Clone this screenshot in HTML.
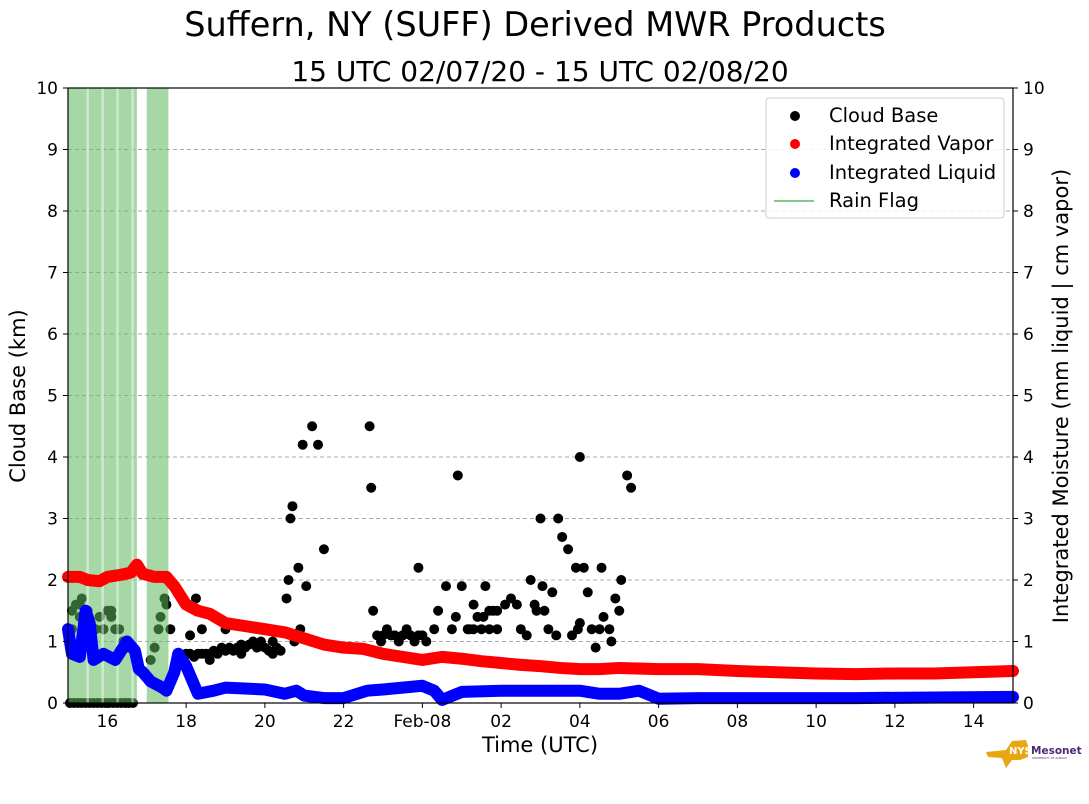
<!DOCTYPE html>
<html><head><meta charset="utf-8"><style>
body{margin:0;background:#fff;}
svg{display:block;font-family:"DejaVu Sans","Liberation Sans",sans-serif;}
</style></head><body>
<svg id="c" width="1089" height="804">
<text x="535" y="36" font-size="33.5" text-anchor="middle">Suffern, NY (SUFF) Derived MWR Products</text>
<text x="540" y="81" font-size="28" text-anchor="middle">15 UTC 02/07/20 - 15 UTC 02/08/20</text>
<g id="grid"></g><g id="cloud"></g><g id="rain"></g><g id="data"></g><g id="axes"></g>
<text x="540" y="752" font-size="21" text-anchor="middle">Time (UTC)</text>
<text transform="translate(25,396) rotate(-90)" font-size="21" text-anchor="middle">Cloud Base (km)</text>
<text transform="translate(1068,396) rotate(-90)" font-size="21" text-anchor="middle">Integrated Moisture (mm liquid | cm vapor)</text>
<g>
<rect x="766" y="98" width="238" height="120" rx="3" fill="#fff" fill-opacity="0.85" stroke="#ccc"/>
<circle cx="795" cy="116" r="5" fill="#000"/><text x="829" y="122" font-size="19.5">Cloud Base</text>
<circle cx="795" cy="144" r="5" fill="red"/><text x="829" y="150" font-size="19.5">Integrated Vapor</text>
<circle cx="795" cy="173" r="5" fill="blue"/><text x="829" y="179" font-size="19.5">Integrated Liquid</text>
<line x1="774" y1="201" x2="814" y2="201" stroke="#5cb85c" stroke-width="1.5"/><text x="829" y="207" font-size="19.5">Rain Flag</text>
</g>
<g>
<path d="M986,752 L1006,750 L1012,741 L1026,740 L1028,746 L1028,757 L1020,760 L1012,760 L1006,768 L1002,758 L988,757 Z" fill="#e8a612"/>
<text x="1009" y="754" font-size="10" font-weight="bold" fill="#fff">NYS</text>
<text x="1031" y="754" font-size="10.5" font-weight="bold" fill="#4b2a73">Mesonet</text>
<text x="1032" y="759" font-size="3" fill="#4b2a73">UNIVERSITY AT ALBANY</text>
</g>
</svg>
<script>
const xTickHours=[1,3,5,7,9,11,13,15,17,19,21,23];
const xTickLabels=["16","18","20","22","Feb-08","02","04","06","08","10","12","14"];
const yTicks=[0,1,2,3,4,5,6,7,8,9,10];
const rainBands=[[0,1.75],[2.0,2.55]];
const vaporH=[0,0.3,0.5,0.8,1.0,1.3,1.6,1.75,1.9,2.2,2.5,2.7,3.0,3.3,3.6,4,4.5,5,5.5,6,6.5,7,7.5,8,8.5,9,9.5,10,10.5,11,11.5,12,12.5,13,13.5,14,15,16,17,18,19,20,21,22,23,24];
const vaporV=[2.05,2.05,2.0,1.98,2.05,2.08,2.12,2.25,2.1,2.05,2.05,1.9,1.6,1.5,1.45,1.3,1.25,1.2,1.15,1.05,0.95,0.9,0.88,0.8,0.75,0.7,0.75,0.72,0.68,0.65,0.62,0.6,0.57,0.55,0.55,0.57,0.55,0.55,0.52,0.5,0.48,0.47,0.48,0.48,0.5,0.52];
const liqH=[0,0.1,0.3,0.45,0.55,0.65,0.9,1.2,1.5,1.7,1.8,1.9,2.1,2.4,2.5,2.7,2.8,3.0,3.2,3.3,3.7,4,5,5.5,5.8,6,6.5,7,7.6,8,9,9.3,9.5,10,11,12,13,13.5,14,14.5,15,16,20,24];
const liqV=[1.2,0.8,0.75,1.5,1.3,0.7,0.8,0.7,1.0,0.85,0.55,0.5,0.35,0.25,0.2,0.5,0.8,0.6,0.3,0.15,0.2,0.25,0.22,0.15,0.2,0.12,0.08,0.08,0.2,0.22,0.28,0.2,0.05,0.18,0.2,0.2,0.2,0.15,0.15,0.2,0.07,0.08,0.08,0.1];
const cloudH=[0.1,0.2,0.3,0.35,0.5,0.6,0.8,0.9,1.0,1.1,1.2,1.4,1.5,0.05,0.15,0.25,0.35,0.45,0.55,0.65,0.75,0.85,0.95,1.05,1.15,1.25,1.35,1.45,1.55,1.65,0.1,0.3,0.5,0.7,0.9,1.1,1.3,1.5,1.7,2.1,2.2,2.3,2.35,2.45,2.5,2.6,2.8,3.0,3.1,3.2,3.3,3.4,3.5,3.6,3.7,3.8,3.9,4.0,4.1,4.2,4.3,4.4,4.5,4.6,4.7,4.8,4.9,5.0,5.1,5.2,5.3,5.4,3.1,3.25,3.4,3.6,4.0,4.4,4.8,5.2,5.55,5.6,5.65,5.7,5.75,5.85,5.9,5.96,6.05,6.2,6.35,6.5,7.66,7.7,7.75,7.85,7.95,8.0,8.1,8.2,8.3,8.4,8.5,8.6,8.7,8.8,8.9,9.0,9.1,8.1,8.5,8.9,9.3,9.4,9.6,9.75,9.9,9.85,10.0,10.2,10.3,10.4,10.5,10.6,10.7,10.8,10.9,10.15,10.55,10.3,10.7,10.9,11.1,11.25,11.4,11.5,11.65,11.75,11.85,11.9,12.0,12.05,12.1,12.2,12.3,12.4,12.45,12.55,12.7,12.8,12.9,12.95,13.0,13.1,13.2,13.4,13.5,13.55,13.6,13.75,13.8,13.9,14.0,14.05,14.2,14.3,13.0,13.3];
const cloudV=[1.5,1.6,1.6,1.7,1.5,1.2,1.4,1.2,1.5,1.4,1.2,1.0,0.9,0,0,0,0,0,0,0,0,0,0,0,0,0,0,0,0,0,1.2,1.4,1.3,1.2,1.2,1.5,1.2,1.0,0.8,0.7,0.9,1.2,1.4,1.7,1.6,1.2,0.6,0.8,0.8,0.75,0.8,0.8,0.8,0.8,0.85,0.8,0.9,0.85,0.9,0.85,0.9,0.95,0.9,0.95,1.0,0.95,1.0,0.9,0.85,0.8,0.9,0.85,1.1,1.7,1.2,0.7,1.2,0.8,0.9,1.0,1.7,2.0,3.0,3.2,1.0,2.2,1.2,4.2,1.9,4.5,4.2,2.5,4.5,3.5,1.5,1.1,1.0,1.1,1.2,1.1,1.1,1.0,1.1,1.2,1.1,1.0,1.1,1.1,1.0,1.15,1.1,2.2,1.2,1.5,1.9,1.2,3.7,1.4,1.9,1.2,1.6,1.4,1.2,1.9,1.2,1.5,1.2,1.2,1.4,1.2,1.5,1.5,1.6,1.7,1.6,1.2,1.1,2.0,1.6,1.5,3.0,1.9,1.5,1.2,1.8,1.1,3.0,2.7,2.5,1.1,2.2,1.2,4.0,2.2,1.8,0.9,1.2,2.2,1.4,1.2,1.0,1.7,1.5,2.0,3.7,3.5,1.3,1.2];
const NS='http://www.w3.org/2000/svg';
const X0=68,X1=1013,Y0=703,Y1=88;
const xs=h=>X0+h*(X1-X0)/24, ys=v=>Y0-v*(Y0-Y1)/10;
function mk(t,a,p){const e=document.createElementNS(NS,t);for(const k in a)e.setAttribute(k,a[k]);p.appendChild(e);return e;}
const grid=document.getElementById('grid'),cloud=document.getElementById('cloud'),data=document.getElementById('data'),rain=document.getElementById('rain'),axes=document.getElementById('axes');
yTicks.forEach(v=>{
 if(v>0&&v<10){const g=mk('line',{x1:X0,x2:X1,y1:ys(v),y2:ys(v),stroke:'#aaa','stroke-dasharray':'4,3'},grid);
 
 }
 const l=mk('text',{x:X0-10,y:ys(v)+6,'font-size':17,'text-anchor':'end'},axes);l.textContent=v;
 
 
 const r=mk('text',{x:X1+10,y:ys(v)+6,'font-size':17},axes);r.textContent=v;
 
 
 mk('line',{x1:X0-5,x2:X0,y1:ys(v),y2:ys(v),stroke:'#000'},axes);
 mk('line',{x1:X1,x2:X1+5,y1:ys(v),y2:ys(v),stroke:'#000'},axes);
});
xTickHours.forEach((h,i)=>{
 mk('line',{x1:xs(h),x2:xs(h),y1:Y0,y2:Y0+5,stroke:'#000'},axes);
 const t=mk('text',{x:xs(h),y:Y0+24,'font-size':17,'text-anchor':'middle'},axes);t.textContent=xTickLabels[i];
 
 
});
mk('rect',{x:X0,y:Y1,width:X1-X0,height:Y0-Y1,fill:'none',stroke:'#000','stroke-width':1.2},axes);
function series(H,V,col,name){
 const pts=H.map((h,i)=>xs(h)+','+ys(V[i])).join(' ');
 const pl=mk('polyline',{points:pts,fill:'none',stroke:col,'stroke-width':12,'stroke-linejoin':'round','stroke-linecap':'round'},data);
 
 
}
cloudH.forEach((h,i)=>{const c=mk('circle',{cx:xs(h),cy:ys(cloudV[i]),r:5,fill:'#000'},cloud);
 
 });
series(vaporH,vaporV,'red','integrated-vapor-series');
series(liqH,liqV,'blue','integrated-liquid-series');
rainBands.forEach(b=>{
 const r=mk('rect',{x:xs(b[0]),y:Y1,width:xs(b[1])-xs(b[0]),height:Y0-Y1,fill:'#5cb85c','fill-opacity':0.55},rain);
 
 
 for(let h=b[0]+0.5;h<b[1]-0.05;h+=0.38){mk('line',{x1:xs(h),x2:xs(h),y1:Y1,y2:Y0,stroke:'#fff','stroke-opacity':0.45,'stroke-width':2.5},rain);}
});
</script>
</body></html>
